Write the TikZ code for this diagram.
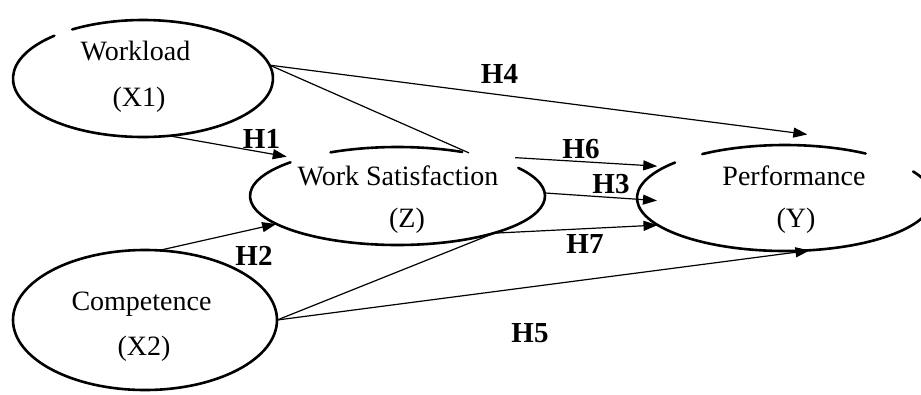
\documentclass[tikz,border=0pt]{standalone}
\usepackage{fontspec}
\setmainfont{Liberation Serif}
\usetikzlibrary{shapes.geometric,arrows.meta}
\tikzset{
  latent/.style={ellipse, draw=none, inner sep=0pt},
  ell/.style={line width=2.6pt, line cap=round},
  conn/.style={line width=1.2pt},
  arr/.style={conn, -{Triangle[length=14pt,width=10pt]}},
  lbl/.style={font=\fontsize{28}{30}\selectfont, anchor=base, inner sep=0pt},
  hyp/.style={font=\fontsize{29}{30}\selectfont\bfseries, anchor=base, inner sep=0pt}
}
\begin{document}
\begin{tikzpicture}[x=1pt,y=-1pt]
\useasboundingbox (0,0) rectangle (921,394);
\clip (0,0) rectangle (921,394);
% latent variables
\node[latent, minimum width=260pt, minimum height=117pt] (wl) at (143,78.5) {};
\node[latent, minimum width=264pt, minimum height=140pt] (comp) at (145,320) {};
\node[latent, minimum width=295pt, minimum height=98pt] (ws) at (397.5,196) {};
\node[latent, minimum width=296pt, minimum height=106pt] (perf) at (785,198) {};
% ellipse outlines (with the small breaks of the original)
\draw[ell] ([shift={(133:130pt and 58.5pt)}]wl.center) arc[start angle=133, end angle=483, x radius=130pt, y radius=58.5pt];
\draw[ell] (comp.center) ellipse [x radius=132pt, y radius=70pt];
\draw[ell] ([shift={(117:147.5pt and 49pt)}]ws.center) arc[start angle=117, end angle=64, x radius=147.5pt, y radius=49pt];
\draw[ell] ([shift={(136.5:147.5pt and 49pt)}]ws.center) arc[start angle=136.5, end angle=395, x radius=147.5pt, y radius=49pt];
\draw[ell] ([shift={(124:148pt and 53pt)}]perf.center) arc[start angle=124, end angle=57, x radius=148pt, y radius=53pt];
\draw[ell] ([shift={(138:148pt and 53pt)}]perf.center) arc[start angle=138, end angle=390, x radius=148pt, y radius=53pt];
% texts
\node[lbl] (wlt) at (135.5,60) {Workload};
\node[lbl] (wls) at (139,106) {(X1)};
\node[lbl] (compt) at (141.5,310) {Competence};
\node[lbl] (comps) at (144,355) {(X2)};
\node[lbl] (wst) at (398,185) {Work Satisfaction};
\node[lbl] (wss) at (407,227) {(Z)};
\node[lbl] (perft) at (794,185) {Performance};
\node[lbl] (perfs) at (796,227) {(Y)};
% connectors
\draw[conn] (wl.6) -- (ws.31);
\draw[arr] (wl.6) -- ([yshift=11pt]perf.67);
\draw[arr] (wl.295) -- ([shift={(-5pt,5pt)}]ws.162);
\draw[arr] (comp.78) -- (ws.193);
\draw[arr] ([shift={(12pt,4pt)}]ws.18) -- ([xshift=-9pt]perf.165);
\draw[arr] ([yshift=3pt]ws.east) -- ([xshift=20pt]perf.181);
\draw[conn] (comp.east) -- (ws.339);
\draw[arr] (ws.339) -- (perf.192);
\draw[arr] (comp.east) -- (perf.295);
% hypothesis labels
\node[hyp] (h4) at (499.5,83) {H4};
\node[hyp] (h1) at (261.5,148) {H1};
\node[hyp] (h6) at (581,158) {H6};
\node[hyp] (h3) at (611,193) {H3};
\node[hyp] (h2) at (254,265) {H2};
\node[hyp] (h7) at (585,253) {H7};
\node[hyp] (h5) at (530,342) {H5};
\end{tikzpicture}
\end{document}
